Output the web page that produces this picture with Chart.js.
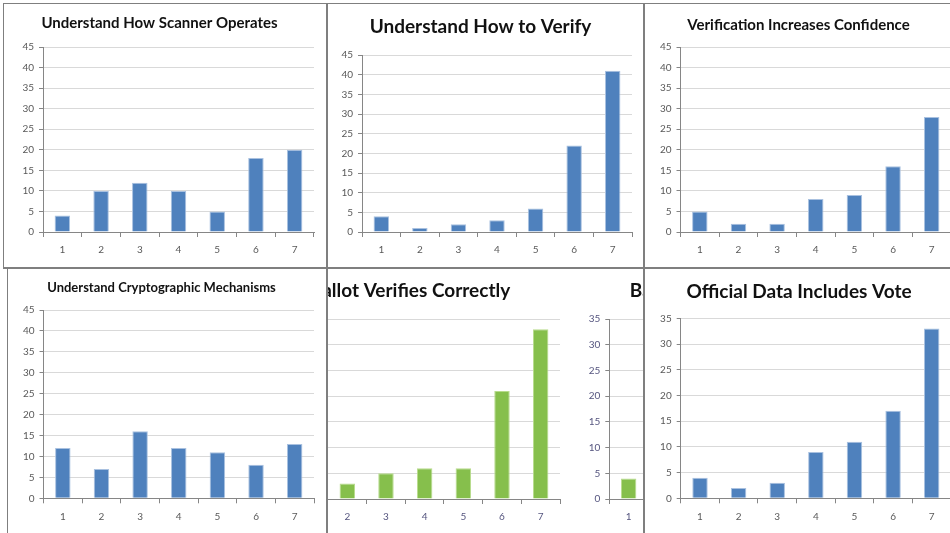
<!DOCTYPE html>
<html>
<head>
<meta charset="utf-8">
<title>Survey results</title>
<script src="https://cdn.jsdelivr.net/npm/chart.js@4.4.1/dist/chart.umd.min.js"></script>
<style>
  html, body { margin: 0; padding: 0; background: #fff; }
  body { width: 950px; height: 533px; position: relative; overflow: hidden; }
  canvas, .clip, .line { position: absolute; }
  .clip { overflow: hidden; }
  .line { background: #7f7f7f; }
</style>
</head>
<body>
<canvas id="scanner" width="320" height="262" style="left:5px;top:5px"></canvas>
<canvas id="verify" width="313" height="262" style="left:329px;top:5px"></canvas>
<canvas id="confidence" width="314" height="262" style="left:646px;top:5px"></canvas>
<canvas id="crypto" width="316" height="262" style="left:9px;top:271px"></canvas>
<div class="clip" style="left:328px;top:271px;width:317px;height:262px">
  <canvas id="correctA" width="320" height="262" style="left:-68px;top:0"></canvas>
  <canvas id="correctB" width="320" height="262" style="left:252px;top:0"></canvas>
</div>
<canvas id="official" width="313" height="262" style="left:647px;top:271px"></canvas>

<div class="line" style="left:3px;top:3px;width:947px;height:1px"></div>
<div class="line" style="left:3px;top:3px;width:1px;height:265px"></div>
<div class="line" style="left:7px;top:268px;width:1px;height:265px"></div>
<div class="line" style="left:326px;top:3px;width:2px;height:530px"></div>
<div class="line" style="left:643px;top:3px;width:2px;height:530px"></div>
<div class="line" style="left:3px;top:267px;width:947px;height:2px"></div>

<script>
// answers on the 1-7 scale
const categories = ["1", "2", "3", "4", "5", "6", "7"];

const scannerValues = [4, 10, 12, 10, 5, 18, 20];
const verifyValues = [4, 1, 2, 3, 6, 22, 41];
const confidenceValues = [5, 2, 2, 8, 9, 16, 28];
const cryptoValues = [12, 7, 16, 12, 11, 8, 13];
const correctValues = [4, 3, 5, 6, 6, 21, 33];
const officialValues = [4, 2, 3, 9, 11, 17, 33];

const BLUE = "#4f81bd";
const GREEN = "#86bf4c";

Chart.defaults.font.family = "Lato, 'Open Sans', sans-serif";
Chart.defaults.animation = false;

// plot = chart area inside the canvas (left, top, right, bottom)
function makeChart(id, values, opts) {
  const canvas = document.getElementById(id);
  const w = canvas.width;
  const h = canvas.height;
  const p = opts.plot;
  const th = opts.titleSize * 1.2;

  return new Chart(canvas, {
    type: "bar",
    data: {
      labels: categories,
      datasets: [
        {
          data: values,
          backgroundColor: opts.color,
          borderColor: opts.edge,
          borderWidth: 1,
          categoryPercentage: 1,
          barPercentage: 0.4,
        },
      ],
    },
    options: {
      responsive: false,
      layout: { padding: { left: 0, top: 0, bottom: 0, right: w - p.r } },
      plugins: {
        legend: { display: false },
        tooltip: { enabled: false },
        title: {
          display: true,
          text: opts.title,
          color: "#111",
          font: { size: opts.titleSize, weight: "bold", lineHeight: 1.2 },
          padding: {
            top: opts.titleY - th / 2,
            bottom: p.t - opts.titleY - th / 2,
          },
        },
      },
      scales: {
        x: {
          afterFit: (scale) => {
            scale.height = h - p.b;
          },
          grid: {
            drawOnChartArea: false,
            tickLength: 5,
            color: "#868686",
          },
          border: { color: "#868686" },
          ticks: {
            color: opts.tickColor,
            font: { size: 10 },
            padding: 7,
            maxRotation: 0,
          },
        },
        y: {
          min: 0,
          max: opts.yMax,
          afterFit: (scale) => {
            scale.width = p.l;
          },
          grid: {
            color: "#d9d9d9",
            tickColor: "#868686",
            tickLength: 4,
          },
          border: { color: "#868686" },
          ticks: {
            stepSize: 5,
            color: opts.tickColor,
            font: { size: 10 },
            padding: 5,
          },
        },
      },
    },
  });
}

makeChart("scanner", scannerValues, {
  title: "Understand How Scanner Operates",
  titleSize: 15,
  titleY: 18,
  yMax: 45,
  plot: { l: 38, t: 42, r: 309, b: 227 },
  color: BLUE,
  edge: "#a9c1e0",
  tickColor: "#595959",
});

makeChart("verify", verifyValues, {
  title: "Understand How to Verify",
  titleSize: 19,
  titleY: 22,
  yMax: 45,
  plot: { l: 33, t: 50, r: 303, b: 227 },
  color: BLUE,
  edge: "#a9c1e0",
  tickColor: "#595959",
});

makeChart("confidence", confidenceValues, {
  title: "Verification Increases Confidence",
  titleSize: 15,
  titleY: 20,
  yMax: 45,
  plot: { l: 34.5, t: 42, r: 305, b: 227 },
  color: BLUE,
  edge: "#a9c1e0",
  tickColor: "#595959",
});

makeChart("crypto", cryptoValues, {
  title: "Understand Cryptographic Mechanisms",
  titleSize: 13,
  titleY: 17,
  yMax: 45,
  plot: { l: 34.5, t: 39, r: 305, b: 227.3 },
  color: BLUE,
  edge: "#a9c1e0",
  tickColor: "#595959",
});

// this panel is wrapped round in the source picture: same chart drawn twice
const correctOpts = {
  title: "Ballot Verifies Correctly",
  titleSize: 19,
  titleY: 20,
  yMax: 35,
  plot: { l: 29.3, t: 48, r: 300, b: 228 },
  color: GREEN,
  edge: "#b8dc8c",
  tickColor: "#55557f",
};
makeChart("correctA", correctValues, correctOpts);
makeChart("correctB", correctValues, correctOpts);

makeChart("official", officialValues, {
  title: "Official Data Includes Vote",
  titleSize: 19,
  titleY: 21,
  yMax: 35,
  plot: { l: 33.7, t: 47.3, r: 304, b: 227.3 },
  color: BLUE,
  edge: "#a9c1e0",
  tickColor: "#595959",
});
</script>
</body>
</html>
